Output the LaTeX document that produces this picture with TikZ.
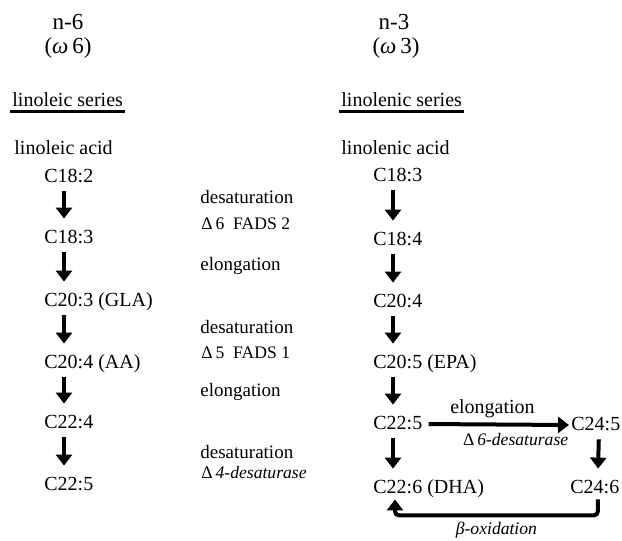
\documentclass[tikz,border=0pt]{standalone}
\usepackage{fontspec}
\setmainfont{Liberation Serif}
\usetikzlibrary{arrows.meta}
\tikzset{
  every node/.style={font=\fontsize{10}{12}\selectfont, inner sep=1pt},
  head/.style={font=\fontsize{11.5}{13}\selectfont},
  series/.style={anchor=west},
  uline/.style={line width=1.1pt},
  acid/.style={anchor=west, text height=7pt, text depth=2pt},
  enzyme/.style={anchor=west, font=\fontsize{9.5}{11}\selectfont},
  enzsub/.style={anchor=west, font=\fontsize{8.8}{11}\selectfont},
  enzit/.style={font=\fontsize{8.8}{10}\selectfont\itshape},
  conv/.style={-{Triangle[length=5.5pt,width=8pt]}, line width=2pt},
  vconv/.style={conv, shorten <=1.5pt, shorten >=4pt},
}

\begin{document}
\begin{tikzpicture}[x=0.5pt, y=-0.5pt]
  \useasboundingbox (0,0) rectangle (622,541);

  % Headers
  \node[head] (n6) at (68,22) {n-6};
  \node[head] (w6) at (68,48) {(\textit{ω}\,6)};
  \node[head] (n3) at (394,22) {n-3};
  \node[head] (w3) at (396,48) {(\textit{ω}\,3)};

  % Series titles
  \node[series] (lser) at (10,100) {linoleic series};
  \node[series] (rser) at (339,100) {linolenic series};
  \draw[uline] ([yshift=-1pt]lser.south west) -- ([yshift=-1pt]lser.south east);
  \draw[uline] ([yshift=-1pt]rser.south west) -- ([yshift=-1pt]rser.south east);

  \node[series] (lacid) at (12,148) {linoleic acid};
  \node[series] (racid) at (339,148) {linolenic acid};

  % n-6 chain
  \node[acid] (l182) at (42,177) {C18:2};
  \node[acid] (l183) at (42,238) {C18:3};
  \node[acid] (l203) at (42,301) {C20:3 (GLA)};
  \node[acid] (l204) at (42,363) {C20:4 (AA)};
  \node[acid] (l224) at (42,423) {C22:4};
  \node[acid] (l225) at (42,485) {C22:5};

  % n-3 chain
  \node[acid] (r183) at (371,176) {C18:3};
  \node[acid] (r184) at (371,240) {C18:4};
  \node[acid] (r204) at (371,302) {C20:4};
  \node[acid] (r205) at (371,363) {C20:5 (EPA)};
  \node[acid] (r225) at (371,424) {C22:5};
  \node[acid] (r226) at (371,488) {C22:6 (DHA)};
  \node[acid] (r245) at (569,425) {C24:5};
  \node[acid] (r246) at (568,488) {C24:6};

  % Enzyme steps
  \node[enzyme] (d1) at (198,197) {desaturation};
  \node[enzsub] (f2) at (199,224) {Δ\,6\ \ FADS 2};
  \node[enzyme] (e1) at (198,266) {elongation};
  \node[enzyme] (d2) at (198,327) {desaturation};
  \node[enzsub] (f1) at (199,353) {Δ\,5\ \ FADS 1};
  \node[enzyme] (e2) at (198,392) {elongation};
  \node[enzyme] (d3) at (198,452) {desaturation};
  \node[enzsub, enzit, anchor=west] (d4) at (199,472) {\upshape Δ\,\itshape 4-desaturase};

  % Vertical arrows
  \foreach \a/\b in {l182/l183, l183/l203, l203/l204, l204/l224, l224/l225,
                     r183/r184, r184/r204, r204/r205, r205/r225, r225/r226}
    \draw[vconv] ([xshift=11pt]\a.south west) -- ([xshift=11pt]\b.north west);
  \draw[vconv] ([xshift=1.5pt]r245.south) -- ([xshift=1.5pt]r246.north);

  % Side route
  \draw[conv, shorten <=2pt] (r225.east) --
    node[pos=0.47, above=1.5pt] {elongation}
    node[pos=0.63, below=2.5pt, enzit] {\upshape Δ\,\itshape 6-desaturase}
    (r245.west);
  \draw[conv, rounded corners=2pt] ([xshift=1.5pt]r246.south) -- ++(0,16)
    -| node[pos=0.25, below=1.5pt, enzit] {β-oxidation}
    ([xshift=12pt]r226.south west);
\end{tikzpicture}
\end{document}
